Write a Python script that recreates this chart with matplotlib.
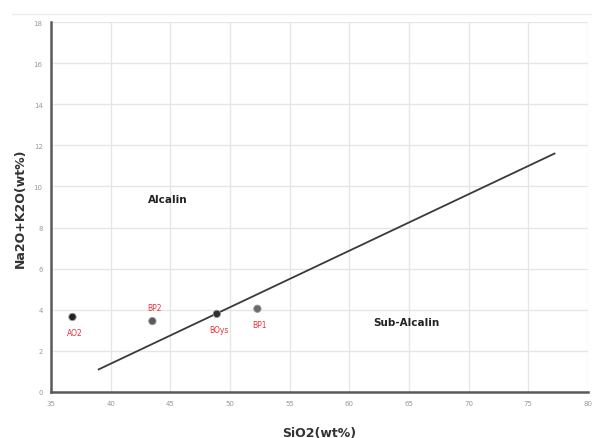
import matplotlib.pyplot as plt
from matplotlib.lines import Line2D

# samples
names = ["AO2", "BP2", "BOys", "BP1"]
sio2 = [36.8, 43.5, 48.9, 52.3]
alk = [3.65, 3.45, 3.8, 4.05]
colors = ["#222222", "#5a5a5a", "#2e2e2e", "#6a6a6a"]
label_dy = [-0.75, 0.65, -0.75, -0.75]

# alkaline / sub-alkaline divide
line_x = [39.0, 77.2]
line_y = [1.1, 11.6]

xticks = [35, 40, 45, 50, 55, 60, 65, 70, 75, 80]
yticks = [0, 2, 4, 6, 8, 10, 12, 14, 16, 18]

fig = plt.figure(figsize=(5.92, 4.39), dpi=100)
ax = fig.add_axes([0.0861, 0.1048, 0.9070, 0.8428])

ax.set_xlim(35, 80)
ax.set_ylim(0, 18)
ax.set_xticks(xticks)
ax.set_yticks(yticks)
ax.grid(True, color="#e6e6e6", linewidth=1.0)
ax.set_axisbelow(True)
ax.tick_params(length=0, labelsize=5, colors="#999999", pad=6)

for s in ["top", "right"]:
    ax.spines[s].set_visible(False)
ax.spines["left"].set_color("#5a5a5a")
ax.spines["left"].set_linewidth(1.8)
ax.spines["bottom"].set_color("#5a5a5a")
ax.spines["bottom"].set_linewidth(1.8)

ax.plot(line_x, line_y, color="#3a3a3a", linewidth=1.3)

ax.scatter(sio2, alk, s=28, c=colors, edgecolors="#999999", linewidths=0.6, zorder=3)
for n, x, y, dy in zip(names, sio2, alk, label_dy):
    ax.text(x + 0.2, y + dy, n, color="#e8323c", fontsize=5.5,
            ha="center", va="center")

ax.text(44.8, 9.4, "Alcalin", fontsize=7.5, fontweight="bold", color="#222222",
        ha="center", va="center")
ax.text(64.8, 3.4, "Sub-Alcalin", fontsize=7.5, fontweight="bold", color="#222222",
        ha="center", va="center")

ax.set_xlabel("SiO2(wt%)", fontsize=9, fontweight="bold", color="#333333", labelpad=14)
ax.set_ylabel("Na2O+K2O(wt%)", fontsize=9, fontweight="bold", color="#333333", labelpad=5)

# thin light border line above the plot
fig.add_artist(Line2D([0.02, 1.0], [1 - 15 / 439, 1 - 15 / 439], color="#ececec",
                      linewidth=1.0, transform=fig.transFigure))

plt.savefig("out.png")
